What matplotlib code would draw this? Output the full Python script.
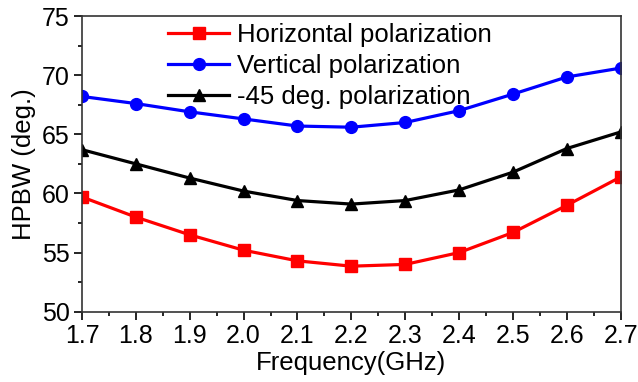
import numpy as np
import matplotlib.pyplot as plt
from matplotlib.ticker import MultipleLocator

plt.rcParams['font.family'] = ['Liberation Sans', 'DejaVu Sans']

freq = [1.7, 1.8, 1.9, 2.0, 2.1, 2.2, 2.3, 2.4, 2.5, 2.6, 2.7]
hpbw_horizontal = [59.7, 58.0, 56.5, 55.2, 54.3, 53.85, 54.0, 55.0, 56.7, 59.0, 61.4]
hpbw_vertical = [68.2, 67.6, 66.9, 66.3, 65.7, 65.6, 66.0, 67.0, 68.4, 69.85, 70.6]
hpbw_45deg = [63.7, 62.5, 61.3, 60.2, 59.4, 59.1, 59.4, 60.3, 61.8, 63.8, 65.2]

fig = plt.figure(figsize=(6.38, 3.82), dpi=100)
ax = fig.add_axes([0.1285, 0.184, 0.8445, 0.774])

ax.plot(freq, hpbw_horizontal, color='#ff0000', marker='s', markersize=8, linewidth=2.3,
        label='Horizontal polarization')
ax.plot(freq, hpbw_vertical, color='#0000ff', marker='o', markersize=8.5, linewidth=2.3,
        label='Vertical polarization')
ax.plot(freq, hpbw_45deg, color='black', marker='^', markersize=9, linewidth=2.3,
        label='-45 deg. polarization')

ax.set_xlim(1.7, 2.7)
ax.set_ylim(50, 75)
ax.xaxis.set_minor_locator(MultipleLocator(0.05))
ax.yaxis.set_major_locator(MultipleLocator(5))
ax.yaxis.set_minor_locator(MultipleLocator(2.5))
ax.set_xticks(freq)
ax.set_xticklabels(['%.1f' % v for v in freq])

ax.tick_params(which='major', direction='out', length=5.8, width=1.2, labelsize=18, pad=3)
ax.tick_params(which='minor', direction='out', length=3, width=1.2)
for s in ax.spines.values():
    s.set_linewidth(1.2)
    s.set_color('#333333')

ax.set_xlabel('Frequency(GHz)', fontsize=18.5, labelpad=2)
ax.set_ylabel('HPBW (deg.)', fontsize=18.5, labelpad=4)

ax.legend(loc='upper left', bbox_to_anchor=(0.14, 1.012), frameon=False, fontsize=18.5,
          handlelength=2.4, handletextpad=0.3, labelspacing=0.27, borderaxespad=0)

fig.savefig('out.png', dpi=100)
